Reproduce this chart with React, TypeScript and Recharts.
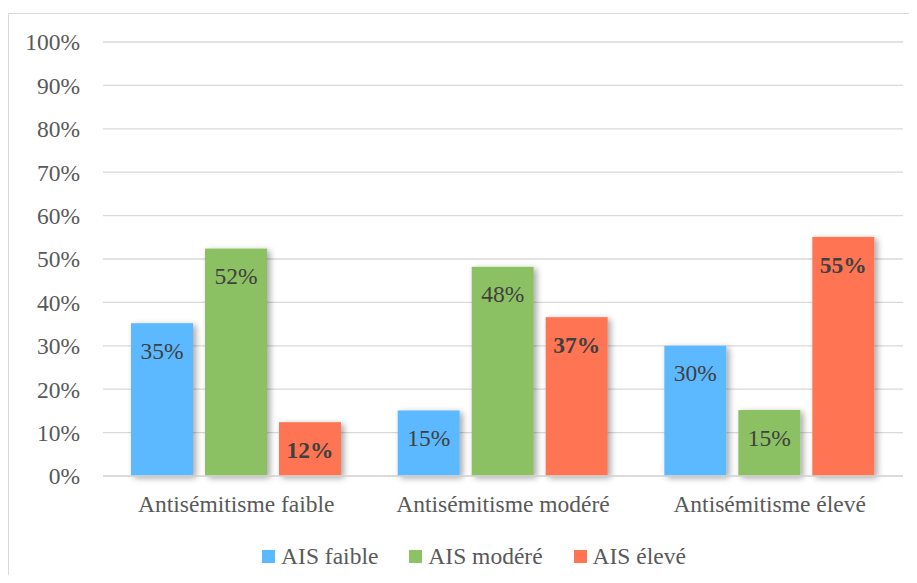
import React from "react";
import {
  BarChart,
  Bar,
  XAxis,
  YAxis,
  CartesianGrid,
  Legend,
  LabelList,
} from "recharts";

const categories = [
  "Antisémitisme faible",
  "Antisémitisme modéré",
  "Antisémitisme élevé",
];
const aisFaible = [35.2, 15.1, 30.0];
const aisModere = [52.4, 48.2, 15.2];
const aisEleve = [12.4, 36.6, 55.1];
const yTicks = [0, 10, 20, 30, 40, 50, 60, 70, 80, 90, 100];

const series = [
  { key: "faible", name: "AIS faible", color: "#5BB9FF", bold: false },
  { key: "modere", name: "AIS modéré", color: "#8CC164", bold: false },
  { key: "eleve", name: "AIS élevé", color: "#FF7552", bold: true },
];

const data = categories.map((c, i) => ({
  cat: c,
  faible: aisFaible[i],
  modere: aisModere[i],
  eleve: aisEleve[i],
}));

const FONT = "Liberation Serif, Tinos, Times New Roman, Times, DejaVu Serif, serif";

const ShadowRect = (props: any) => {
  const { x, y, width, height, fill } = props;
  return (
    <rect x={x} y={y} width={width} height={height} fill={fill} filter="url(#barShadow)" />
  );
};

const LegendContent = () => (
  <div
    style={{
      display: "flex",
      justifyContent: "center",
      alignItems: "center",
      height: 26,
      paddingLeft: 36,
      fontFamily: FONT,
      fontSize: 23.5,
      color: "#595959",
    }}
  >
    {series.map((s, i) => (
      <div
        key={s.key}
        style={{
          display: "flex",
          alignItems: "center",
          marginRight: i < series.length - 1 ? 31 : 0,
        }}
      >
        <span
          style={{
            display: "inline-block",
            width: 13,
            height: 13,
            background: s.color,
            marginRight: 6,
          }}
        />
        <span style={{ lineHeight: "26px" }}>{s.name}</span>
      </div>
    ))}
  </div>
);

export default function App() {
  return (
    <div style={{ width: 909, height: 567, overflow: "hidden", paddingTop: 5, boxSizing: "border-box" }}>
      <div
        style={{
          width: 931,
          height: 570,
          border: "1.5px solid #d9d9d9",
          background: "#fff",
        }}
      >
        <BarChart
          width={931}
          height={570}
          data={data}
          margin={{ top: 28, right: 37, left: 0, bottom: 15 }}
          barCategoryGap={28}
          barGap={12}
          style={{ fontFamily: FONT }}
        >
          <defs>
            <filter id="barShadow" x="-40%" y="-20%" width="180%" height="140%">
              <feDropShadow dx="3" dy="2" stdDeviation="3" floodColor="#000" floodOpacity="0.35" />
            </filter>
          </defs>
          <CartesianGrid vertical={false} stroke="#d9d9d9" strokeWidth={1.3} />
          <XAxis
            dataKey="cat"
            height={67}
            tickSize={0}
            tickMargin={19}
            axisLine={{ stroke: "#d9d9d9", strokeWidth: 1.6 }}
            tick={{ fontSize: 23.5, fill: "#595959", fontFamily: FONT }}
          />
          <YAxis
            width={94}
            domain={[0, 100]}
            ticks={yTicks}
            tickFormatter={(v: number) => `${v}%`}
            axisLine={false}
            tickLine={false}
            tickSize={0}
            tickMargin={23}
            tick={{ fontSize: 23.5, fill: "#595959", fontFamily: FONT }}
          />
          <Legend verticalAlign="bottom" content={<LegendContent />} />
          {series.map((s) => (
            <Bar
              key={s.key}
              dataKey={s.key}
              name={s.name}
              fill={s.color}
              shape={ShadowRect}
              isAnimationActive={false}
            >
              <LabelList
                dataKey={s.key}
                position="insideTop"
                offset={19}
                formatter={(v: any) => `${Math.round(Number(v))}%`}
                style={{
                  fontSize: 23.5,
                  fill: "#404040",
                  fontFamily: FONT,
                  fontWeight: s.bold ? "bold" : "normal",
                }}
              />
            </Bar>
          ))}
        </BarChart>
      </div>
    </div>
  );
}
